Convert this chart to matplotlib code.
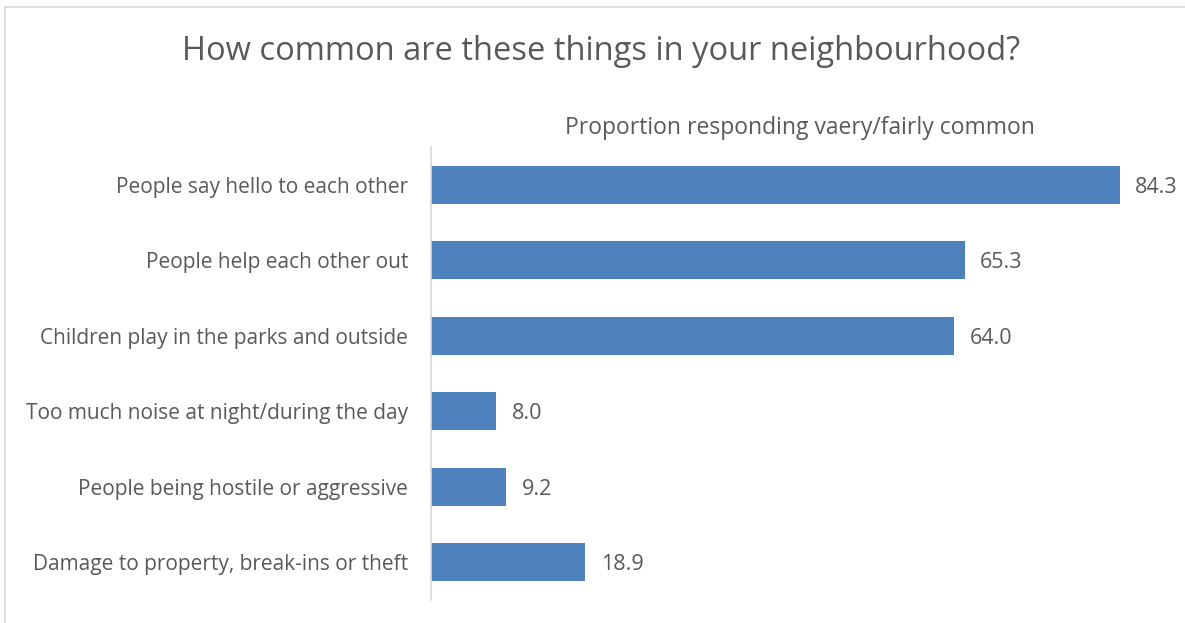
import matplotlib.pyplot as plt
from matplotlib.patches import Rectangle

plt.rcParams['font.family'] = ['Open Sans', 'DejaVu Sans']

categorias = [
    'People say hello to each other',
    'People help each other out',
    'Children play in the parks and outside',
    'Too much noise at night/during the day',
    'People being hostile or aggressive',
    'Damage to property, break-ins or theft',
]
valores = [84.3, 65.3, 64.0, 8.0, 9.2, 18.9]

gris = '#595959'
azul = '#4F81BD'

fig = plt.figure(figsize=(11.85, 6.23), dpi=100)

# marco del grafico
fig.patches.append(Rectangle((5 / 1185, -0.1), 1.2, (623 - 7) / 623 + 0.1,
                             transform=fig.transFigure, fill=False,
                             edgecolor='#D9D9D9', linewidth=1.2))

ax = fig.add_axes([431 / 1185, (623 - 600) / 623, (1160 - 431) / 1185, (600 - 147) / 623])

y = list(range(len(categorias)))
ax.barh(y, valores, height=0.5, color=azul)
ax.set_ylim(len(categorias) - 0.5, -0.5)
ax.set_xlim(0, (1160 - 431) / 8.17)

ax.set_yticks(y)
ax.set_yticklabels(categorias, fontsize=15, color=gris)
ax.tick_params(axis='y', length=0, pad=16.5)
ax.set_xticks([])

for s in ['top', 'right', 'bottom']:
    ax.spines[s].set_visible(False)
ax.spines['left'].set_color('#D9D9D9')
ax.spines['left'].set_linewidth(1.2)

for i, v in enumerate(valores):
    ax.text(v + 1.9, i + 0.03, f'{v:.1f}', va='center', ha='left', fontsize=15.5, color=gris)

fig.text(601 / 1185, 1 - 52 / 623, 'How common are these things in your neighbourhood?',
         ha='center', va='center', fontsize=23.5, color=gris)
fig.text(800 / 1185, 1 - 128 / 623, 'Proportion responding vaery/fairly common',
         ha='center', va='center', fontsize=16.5, color=gris)

fig.savefig('out.png', dpi=100)
